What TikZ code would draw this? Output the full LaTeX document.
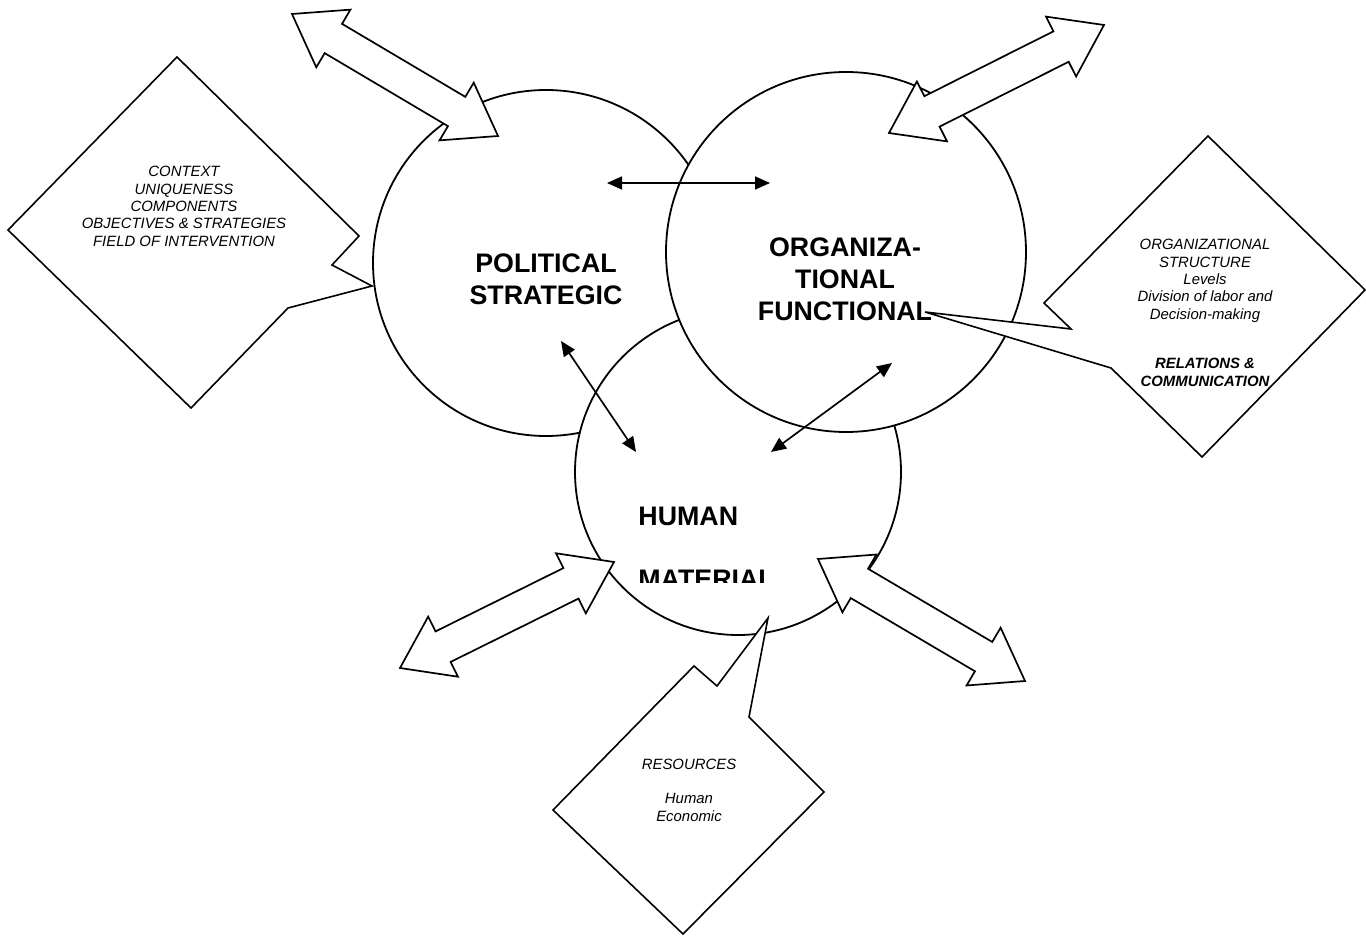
\documentclass[tikz,border=0pt]{standalone}
\usepackage{fontspec}
\setmainfont{Liberation Sans}
\usetikzlibrary{calc,arrows.meta}

% hollow two-headed block arrow between two named tips
\newcommand\bigtwoway[2]{%
  \draw[blk] (#1)
    -- ($(#1)!29.3pt!34.9:(#2)$) -- ($(#1)!25.5pt!19.5:(#2)$)
    -- ($(#2)!25.5pt!-19.5:(#1)$) -- ($(#2)!29.3pt!-34.9:(#1)$)
    -- (#2)
    -- ($(#2)!29.3pt!34.9:(#1)$) -- ($(#2)!25.5pt!19.5:(#1)$)
    -- ($(#1)!25.5pt!-19.5:(#2)$) -- ($(#1)!29.3pt!-34.9:(#2)$)
    -- cycle;}

\tikzset{
  ring/.style={circle, draw, fill=white, line width=0.9pt, inner sep=0pt, outer sep=0pt, minimum size=#1},
  blk/.style={draw, fill=white, line width=0.85pt, line join=miter},
  bubble/.style={draw, fill=white, line width=0.8pt, line join=miter},
  link/.style={{Triangle[length=7.5pt,width=6.5pt]}-{Triangle[length=7.5pt,width=6.5pt]}, line width=0.85pt},
  bigtext/.style={font=\fontsize{13.4}{16.2}\selectfont\bfseries, inner sep=0pt, align=center},
  note/.style={font=\fontsize{7.45}{8.65}\selectfont\itshape, inner sep=0pt, align=center},
}

\begin{document}
\begin{tikzpicture}[x=0.5pt, y=-0.5pt]
\useasboundingbox (0,0) rectangle (1366,936);

% the three spheres
\node[ring=173pt] (pol) at (546,263) {};
\node[ring=163pt] (hum) at (738,472) {};
\node[ring=180pt] (org) at (846,252) {};

\node[bigtext, anchor=north] (poltext) at (546,253) {POLITICAL\\STRATEGIC};
\node[bigtext, anchor=north] (orgtext) at (845,237) {ORGANIZA-\\TIONAL\\FUNCTIONAL};
\begin{scope}
  \clip (600,480) rectangle (820,582);
  \node[bigtext, anchor=base west] (humtext) at (638,525) {HUMAN};
  \node[bigtext, anchor=base west] (mattext) at (638,588) {MATERIAL};
\end{scope}

% outward block arrows
\coordinate (a1) at (292,14);   \coordinate (a2) at (498,136);
\coordinate (b1) at (889,133);  \coordinate (b2) at (1104,25);
\coordinate (c1) at (400,668);  \coordinate (c2) at (614,562);
\coordinate (d1) at (818,559);  \coordinate (d2) at (1025,681);
\bigtwoway{a1}{a2}
\bigtwoway{b1}{b2}
\bigtwoway{c1}{c2}
\bigtwoway{d1}{d2}

% callouts
\draw[bubble] (177,57) -- (359,236) -- (332,265) -- (372,286) -- (288,308)
  -- (191,408) -- (8,230) -- cycle;
\node[note, anchor=north] (ctx) at (184,166)
  {CONTEXT\\UNIQUENESS\\COMPONENTS\\OBJECTIVES \& STRATEGIES\\FIELD OF INTERVENTION};

\draw[bubble] (1208,136) -- (1365,290) -- (1202,457) -- (1111,368) -- (925,312)
  -- (1071,329) -- (1044,303) -- cycle;
\node[note, anchor=north] (str) at (1205,239)
  {ORGANIZATIONAL\\STRUCTURE\\Levels\\Division of labor and\\Decision-making\\[16.3pt]
   \bfseries RELATIONS \&\\\bfseries COMMUNICATION};

\draw[bubble] (694,666) -- (717,686) -- (768,618) -- (749,717) -- (824,792)
  -- (683,934) -- (553,810) -- cycle;
\node[note, anchor=north] (res) at (689,759) {RESOURCES\\[8.35pt]Human\\Economic};

% inner two-way links
\coordinate (h1) at (607,183);  \coordinate (h2) at (770,183);
\coordinate (l1) at (561,341);  \coordinate (l2) at (636,452);
\coordinate (r1) at (892,363);  \coordinate (r2) at (771,452);
\draw[link] (h1) -- (h2);
\draw[link] (l1) -- (l2);
\draw[link] (r1) -- (r2);
\end{tikzpicture}
\end{document}
